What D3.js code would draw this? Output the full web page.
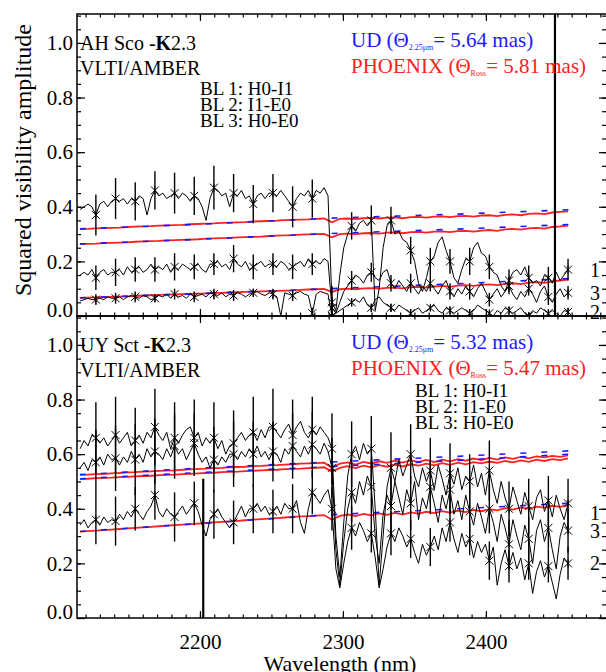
<!DOCTYPE html>
<html>
<head>
<meta charset="utf-8">
<script src="https://cdn.jsdelivr.net/npm/d3@7"></script>
<style>
  body { margin: 0; background: #fff; }
  text { font-family: "Liberation Serif", "DejaVu Serif", serif; }
</style>
</head>
<body>
<div id="chart"></div>
<script>
// spectral sampling grid (nm): every point of the spectra, markers every 5th point
var wlStart = 2116.2, wlStep = 2.752, nPts = 125;
var markerEvery = 5, markerFirst = 4;

// ---- AH Sco (top panel) squared visibilities ----
var ahBL1 = [
  0.39,0.40,0.41,0.40,0.37,0.41,0.42,0.40,0.42,0.43,
  0.42,0.43,0.41,0.43,0.42,0.44,0.43,0.37,0.43,0.46,
  0.44,0.45,0.43,0.44,0.45,0.43,0.45,0.44,0.42,0.44,
  0.43,0.40,0.35,0.43,0.47,0.46,0.44,0.45,0.40,0.45,
  0.44,0.46,0.43,0.44,0.41,0.44,0.45,0.43,0.45,0.45,
  0.44,0.46,0.44,0.42,0.40,0.43,0.45,0.44,0.46,0.43,
  0.46,0.45,0.47,0.44,0.05,0.02,0.15,0.25,0.30,0.33,
  0.31,0.34,0.35,0.33,0.35,0.02,0.10,0.25,0.33,0.35,
  0.30,0.31,0.28,0.27,0.24,0.20,0.12,0.09,0.14,0.20,
  0.22,0.27,0.29,0.24,0.20,0.14,0.12,0.17,0.21,0.20,
  0.25,0.27,0.23,0.22,0.18,0.16,0.15,0.11,0.09,0.13,
  0.16,0.17,0.15,0.18,0.14,0.12,0.13,0.11,0.15,0.14,
  0.12,0.16,0.13,0.15,0.17];
var ahBL2 = [
  0.055,0.06,0.065,0.06,0.06,0.065,0.06,0.07,0.065,0.065,
  0.07,0.06,0.07,0.075,0.07,0.065,0.075,0.07,0.06,0.065,
  0.075,0.07,0.08,0.065,0.08,0.07,0.075,0.065,0.08,0.07,
  0.075,0.08,0.07,0.085,0.08,0.075,0.085,0.07,0.08,0.075,
  0.085,0.08,0.07,0.08,0.085,0.09,0.08,0.075,0.085,0.08,
  0.07,0.0,0.085,0.08,0.075,0.085,0.09,0.08,0.075,0.01,
  0.08,0.09,0.085,0.08,0.0,0.01,0.02,0.03,0.04,0.05,
  0.06,0.05,0.07,0.04,0.03,0.06,0.07,0.05,0.04,0.03,
  0.02,0.04,0.03,0.02,0.01,0.02,0.03,0.01,0.02,0.03,
  0.04,0.02,0.01,0.03,0.02,0.01,0.02,0.03,0.02,0.01,
  0.02,0.04,0.03,0.02,0.01,0.0,0.02,0.01,0.03,0.02,
  0.01,0.02,0.03,0.01,0.0,0.02,0.01,0.03,0.02,0.01,
  0.02,0.01,0.0,0.02,0.015];
var ahBL3 = [
  0.15,0.16,0.15,0.17,0.14,0.16,0.17,0.15,0.16,0.16,
  0.17,0.15,0.18,0.16,0.17,0.18,0.16,0.17,0.19,0.17,
  0.18,0.17,0.19,0.16,0.18,0.17,0.19,0.18,0.17,0.18,
  0.19,0.17,0.16,0.19,0.19,0.20,0.18,0.19,0.17,0.21,
  0.19,0.18,0.20,0.17,0.18,0.19,0.20,0.18,0.19,0.19,
  0.18,0.20,0.19,0.17,0.18,0.19,0.20,0.18,0.21,0.19,
  0.20,0.19,0.21,0.20,0.03,0.01,0.05,0.09,0.11,0.13,
  0.15,0.14,0.12,0.15,0.16,0.14,0.13,0.16,0.17,0.12,
  0.10,0.13,0.11,0.09,0.12,0.10,0.08,0.11,0.09,0.12,
  0.10,0.08,0.11,0.13,0.09,0.07,0.10,0.08,0.11,0.09,
  0.07,0.10,0.12,0.09,0.06,0.08,0.10,0.07,0.09,0.11,
  0.08,0.06,0.09,0.07,0.10,0.08,0.05,0.09,0.11,0.07,
  0.05,0.08,0.10,0.07,0.085];
// error bars (half length) at the marked points
var ahErr1 = [0.075,0.075,0.07,0.07,0.075,0.07,0.08,0.07,0.07,0.07,0.075,0.07,0.06,
  0.05,0.055,0.05,0.05,0.05,0.045,0.05,0.045,0.04,0.045,0.04,0.04];
var ahErr2 = [0.02,0.02,0.02,0.015,0.02,0.02,0.02,0.02,0.015,0.02,0.02,0.02,0.02,
  0.015,0.015,0.015,0.015,0.01,0.015,0.015,0.01,0.015,0.01,0.015,0.015];
var ahErr3 = [0.045,0.05,0.045,0.045,0.05,0.045,0.04,0.05,0.045,0.04,0.045,0.04,0.04,
  0.035,0.035,0.03,0.035,0.03,0.03,0.03,0.025,0.03,0.025,0.03,0.025];
// PHOENIX model (every 2nd grid point)
var ahRed1 = [
  0.318,0.319,0.321,0.322,0.323,0.324,0.326,0.327,0.328,0.329,
  0.331,0.332,0.333,0.334,0.336,0.337,0.338,0.339,0.341,0.342,
  0.343,0.344,0.346,0.347,0.348,0.349,0.351,0.352,0.353,0.354,
  0.356,0.357,0.343,0.356,0.357,0.355,0.358,0.359,0.357,0.360,
  0.361,0.358,0.362,0.363,0.360,0.364,0.365,0.362,0.366,0.367,
  0.364,0.368,0.369,0.366,0.370,0.372,0.369,0.374,0.376,0.373,
  0.379,0.381,0.383];
var ahRed2 = [
  0.263,0.264,0.265,0.267,0.268,0.269,0.270,0.272,0.273,0.274,
  0.275,0.277,0.278,0.279,0.280,0.281,0.283,0.284,0.285,0.286,
  0.288,0.289,0.290,0.291,0.293,0.294,0.295,0.296,0.298,0.299,
  0.300,0.301,0.288,0.300,0.302,0.300,0.303,0.304,0.302,0.305,
  0.306,0.303,0.307,0.308,0.305,0.309,0.310,0.307,0.311,0.312,
  0.309,0.313,0.315,0.312,0.317,0.319,0.316,0.321,0.323,0.320,
  0.326,0.328,0.331];
var ahRed3 = [
  0.066,0.067,0.068,0.069,0.070,0.071,0.072,0.073,0.075,0.076,
  0.077,0.078,0.079,0.080,0.081,0.082,0.083,0.084,0.085,0.086,
  0.087,0.088,0.089,0.090,0.091,0.092,0.093,0.094,0.096,0.097,
  0.098,0.099,0.088,0.098,0.100,0.098,0.101,0.102,0.100,0.103,
  0.104,0.101,0.105,0.107,0.104,0.108,0.110,0.107,0.111,0.113,
  0.110,0.114,0.116,0.113,0.118,0.120,0.117,0.122,0.124,0.121,
  0.127,0.130,0.133];
// uniform disk model at a few wavelengths
var udWl = [2116, 2200, 2290, 2380, 2458];
var ahUD1 = [0.319, 0.336, 0.358, 0.373, 0.389];
var ahUD2 = [0.264, 0.281, 0.302, 0.318, 0.335];
var ahUD3 = [0.067, 0.082, 0.100, 0.118, 0.137];

// ---- UY Sct (bottom panel) ----
var uyBL1 = [
  0.62,0.65,0.63,0.67,0.66,0.64,0.66,0.63,0.65,0.67,
  0.64,0.66,0.68,0.63,0.65,0.67,0.64,0.68,0.66,0.70,
  0.67,0.65,0.68,0.62,0.66,0.64,0.67,0.69,0.70,0.66,
  0.68,0.63,0.66,0.64,0.66,0.62,0.65,0.60,0.63,0.64,
  0.66,0.68,0.65,0.67,0.68,0.65,0.69,0.66,0.70,0.70,
  0.68,0.66,0.69,0.71,0.67,0.70,0.72,0.68,0.66,0.69,
  0.67,0.70,0.68,0.66,0.62,0.30,0.15,0.35,0.52,0.60,
  0.63,0.58,0.64,0.60,0.62,0.40,0.12,0.30,0.48,0.55,
  0.50,0.58,0.52,0.56,0.60,0.52,0.48,0.55,0.50,0.54,
  0.47,0.56,0.51,0.45,0.53,0.49,0.55,0.47,0.52,0.50,
  0.56,0.48,0.53,0.45,0.54,0.47,0.42,0.50,0.44,0.40,
  0.48,0.43,0.38,0.46,0.41,0.36,0.44,0.47,0.39,0.43,
  0.37,0.45,0.40,0.36,0.42];
var uyBL2 = [
  0.34,0.36,0.33,0.35,0.36,0.34,0.37,0.35,0.36,0.355,
  0.38,0.36,0.39,0.37,0.40,0.38,0.36,0.39,0.41,0.45,
  0.39,0.37,0.40,0.38,0.37,0.39,0.41,0.38,0.40,0.42,
  0.39,0.34,0.30,0.36,0.38,0.40,0.37,0.35,0.33,0.35,
  0.38,0.41,0.37,0.40,0.40,0.42,0.39,0.41,0.38,0.39,
  0.41,0.38,0.42,0.40,0.40,0.43,0.35,0.31,0.40,0.46,
  0.44,0.42,0.45,0.47,0.40,0.18,0.11,0.20,0.28,0.33,
  0.30,0.35,0.32,0.28,0.31,0.22,0.11,0.18,0.26,0.31,
  0.28,0.33,0.30,0.26,0.29,0.24,0.20,0.27,0.23,0.26,
  0.30,0.25,0.33,0.28,0.35,0.29,0.24,0.31,0.26,0.29,
  0.22,0.28,0.24,0.27,0.21,0.26,0.12,0.20,0.25,0.19,
  0.24,0.18,0.22,0.14,0.20,0.09,0.17,0.21,0.15,0.19,
  0.13,0.07,0.16,0.22,0.20];
var uyBL3 = [
  0.55,0.57,0.54,0.58,0.57,0.59,0.56,0.60,0.58,0.585,
  0.56,0.59,0.57,0.61,0.58,0.60,0.57,0.62,0.59,0.61,
  0.60,0.58,0.62,0.59,0.63,0.60,0.62,0.58,0.61,0.64,
  0.60,0.57,0.59,0.55,0.58,0.56,0.59,0.57,0.60,0.60,
  0.58,0.61,0.59,0.62,0.60,0.63,0.59,0.61,0.58,0.61,
  0.60,0.57,0.62,0.60,0.63,0.61,0.59,0.63,0.60,0.635,
  0.62,0.60,0.64,0.61,0.55,0.25,0.12,0.28,0.40,0.46,
  0.42,0.50,0.45,0.52,0.48,0.30,0.20,0.38,0.45,0.41,
  0.50,0.44,0.38,0.47,0.42,0.50,0.36,0.44,0.40,0.48,
  0.42,0.35,0.45,0.40,0.47,0.38,0.43,0.36,0.45,0.39,
  0.34,0.42,0.37,0.31,0.40,0.35,0.28,0.38,0.33,0.27,
  0.36,0.30,0.25,0.34,0.29,0.20,0.32,0.36,0.28,0.33,
  0.25,0.18,0.30,0.35,0.32];
var uyErr1 = [0.13,0.14,0.12,0.14,0.13,0.14,0.13,0.12,0.13,0.14,0.13,0.12,0.13,
  0.12,0.12,0.13,0.11,0.12,0.11,0.10,0.11,0.10,0.10,0.09,0.09];
var uyErr2 = [0.09,0.09,0.08,0.09,0.09,0.08,0.09,0.08,0.09,0.08,0.09,0.08,0.08,
  0.08,0.07,0.08,0.07,0.07,0.07,0.06,0.07,0.06,0.06,0.06,0.06];
var uyErr3 = [0.12,0.12,0.13,0.12,0.12,0.11,0.12,0.12,0.12,0.11,0.12,0.12,0.11,
  0.11,0.10,0.11,0.10,0.10,0.09,0.10,0.09,0.09,0.08,0.08,0.08];
var uyRed1 = [
  0.524,0.525,0.527,0.528,0.530,0.531,0.533,0.534,0.536,0.537,
  0.539,0.540,0.541,0.543,0.544,0.546,0.547,0.549,0.550,0.552,
  0.553,0.554,0.556,0.557,0.559,0.560,0.562,0.563,0.565,0.566,
  0.567,0.569,0.550,0.565,0.570,0.562,0.572,0.566,0.574,0.568,
  0.576,0.569,0.577,0.572,0.579,0.571,0.580,0.574,0.582,0.576,
  0.584,0.578,0.586,0.580,0.588,0.583,0.590,0.585,0.592,0.588,
  0.594,0.590,0.596];
var uyRed3 = [
  0.509,0.510,0.512,0.513,0.514,0.516,0.517,0.519,0.520,0.521,
  0.523,0.524,0.525,0.527,0.528,0.530,0.531,0.532,0.534,0.535,
  0.536,0.538,0.539,0.541,0.542,0.543,0.545,0.546,0.547,0.549,
  0.550,0.552,0.536,0.550,0.556,0.549,0.558,0.552,0.560,0.554,
  0.562,0.555,0.563,0.558,0.565,0.559,0.567,0.561,0.569,0.563,
  0.571,0.566,0.573,0.568,0.575,0.570,0.577,0.572,0.580,0.575,
  0.582,0.578,0.585];
var uyRed2 = [
  0.316,0.318,0.320,0.322,0.324,0.326,0.328,0.330,0.332,0.334,
  0.336,0.338,0.340,0.342,0.344,0.346,0.348,0.350,0.352,0.354,
  0.356,0.358,0.360,0.362,0.364,0.366,0.368,0.370,0.372,0.373,
  0.375,0.377,0.360,0.374,0.379,0.373,0.381,0.376,0.383,0.378,
  0.385,0.379,0.387,0.382,0.389,0.384,0.391,0.386,0.393,0.388,
  0.396,0.391,0.399,0.394,0.402,0.397,0.405,0.400,0.408,0.404,
  0.411,0.407,0.414];
var uyUD1 = [0.525, 0.549, 0.571, 0.592, 0.612];
var uyUD3 = [0.510, 0.533, 0.554, 0.577, 0.600];
var uyUD2 = [0.317, 0.346, 0.378, 0.400, 0.420];

// isolated points with huge error bars
var spikePanel = [0, 1];
var spikeWl = [2448.3, 2202.3];
var spikeLo = [-0.2, -0.2];
var spikeHi = [1.3, 0.51];

// value at which the baseline number is written at the right edge
var endLabels = ["1", "3", "2"];
var ahEndVal = [0.168, 0.084, 0.015];
var uyEndVal = [0.385, 0.319, 0.200];

var xTicks = [2200, 2300, 2400];
var yTicks = [0, 0.2, 0.4, 0.6, 0.8, 1.0];

[ahBL1, ahBL2, ahBL3, uyBL1, uyBL2, uyBL3].forEach(function(a, k) {
  if (a.length !== nPts) throw new Error("series " + k + " has " + a.length);
});
[ahRed1, ahRed2, ahRed3, uyRed1, uyRed2, uyRed3].forEach(function(a, k) {
  if (a.length !== 63) throw new Error("model " + k + " has " + a.length);
});

var wl = d3.range(nPts).map(function(i) { return wlStart + i * wlStep; });
var wlModel = wl.filter(function(d, i) { return i % 2 === 0; });

var panels = [
  {star: "AH Sco", top: 14, bottom: 316, data: [ahBL1, ahBL2, ahBL3], err: [ahErr1, ahErr2, ahErr3],
   red: [ahRed1, ahRed2, ahRed3], ud: [ahUD1, ahUD2, ahUD3], udVal: "5.64", phVal: "5.81",
   blX: 200, blY: 95, endVal: ahEndVal, xLabels: false},
  {star: "UY Sct", top: 316, bottom: 618, data: [uyBL1, uyBL2, uyBL3], err: [uyErr1, uyErr2, uyErr3],
   red: [uyRed1, uyRed2, uyRed3], ud: [uyUD1, uyUD2, uyUD3], udVal: "5.32", phVal: "5.47",
   blX: 415, blY: 397, endVal: uyEndVal, xLabels: true}
];

var width = 606, height = 672;
var x = d3.scaleLinear().domain([2114, 2484]).range([77, 606]);

var svg = d3.select("#chart").append("svg")
  .attr("width", width)
  .attr("height", height);

var blue = "#1a1aff", red = "#ff2020";

panels.forEach(function(p, pi) {
  var y = d3.scaleLinear().domain([0, 1.106]).range([p.bottom, p.top]);
  var g = svg.append("g");

  var clipId = "clip" + pi;
  svg.append("clipPath").attr("id", clipId).append("rect")
    .attr("x", 77).attr("y", p.top).attr("width", 529).attr("height", p.bottom - p.top);

  var plot = g.append("g").attr("clip-path", "url(#" + clipId + ")");

  var line = d3.line()
    .x(function(d) { return x(d[0]); })
    .y(function(d) { return y(d[1]); });

  // models: PHOENIX in red, uniform disk dashed blue on top
  p.red.forEach(function(m) {
    plot.append("path")
      .attr("d", line(m.map(function(v, i) { return [wlModel[i], v]; })))
      .attr("fill", "none").attr("stroke", red).attr("stroke-width", 1.8);
  });
  p.ud.forEach(function(m) {
    plot.append("path")
      .attr("d", line(m.map(function(v, i) { return [udWl[i], v]; })))
      .attr("fill", "none").attr("stroke", blue).attr("stroke-width", 1.6)
      .attr("stroke-dasharray", "6,15");
  });

  // measured squared visibilities
  p.data.forEach(function(s, si) {
    plot.append("path")
      .attr("d", line(s.map(function(v, i) { return [wl[i], v]; })))
      .attr("fill", "none").attr("stroke", "#000").attr("stroke-width", 1);

    var marks = s.map(function(v, i) { return {w: wl[i], v: v, i: i}; })
      .filter(function(d) { return d.i >= markerFirst && (d.i - markerFirst) % markerEvery === 0; });
    marks.forEach(function(d, k) { d.e = p.err[si][k]; });

    plot.selectAll(null).data(marks).enter().append("line")
      .attr("x1", function(d) { return x(d.w); })
      .attr("x2", function(d) { return x(d.w); })
      .attr("y1", function(d) { return y(d.v - d.e); })
      .attr("y2", function(d) { return y(d.v + d.e); })
      .attr("stroke", "#000").attr("stroke-width", 1.4);

    var r = 4;
    plot.selectAll(null).data(marks).enter().append("path")
      .attr("transform", function(d) { return "translate(" + x(d.w) + "," + y(d.v) + ")"; })
      .attr("d", "M" + (-r) + "," + (-r) + "L" + r + "," + r + "M" + (-r) + "," + r + "L" + r + "," + (-r) +
                 "M0," + (-r) + "L0," + r)
      .attr("fill", "none").attr("stroke", "#000").attr("stroke-width", 1);
  });

  spikeWl.forEach(function(w, k) {
    if (spikePanel[k] !== pi) return;
    plot.append("line")
      .attr("x1", x(w)).attr("x2", x(w))
      .attr("y1", y(spikeLo[k])).attr("y2", y(spikeHi[k]))
      .attr("stroke", "#000").attr("stroke-width", 2.2);
  });

  // frame and ticks (all inward)
  var minorX = d3.range(2120, 2484, 10);
  var minorY = d3.range(0, 1.11, 0.05);
  var tickFont = function(sel) {
    sel.select(".domain").remove();
    sel.selectAll("text").attr("font-family", "Liberation Serif, serif").attr("font-size", 21).attr("fill", "#000");
    sel.selectAll("line").attr("stroke", "#000").attr("stroke-width", 1.2);
  };

  g.append("g").attr("transform", "translate(0," + p.bottom + ")")
    .call(d3.axisBottom(x).tickValues(minorX).tickSize(-3.5).tickFormat("")).call(tickFont);
  g.append("g").attr("transform", "translate(0," + p.top + ")")
    .call(d3.axisTop(x).tickValues(minorX).tickSize(-3.5).tickFormat("")).call(tickFont);
  g.append("g").attr("transform", "translate(0," + p.bottom + ")")
    .call(d3.axisBottom(x).tickValues(xTicks).tickSize(-7).tickPadding(16)
      .tickFormat(p.xLabels ? d3.format("d") : "")).call(tickFont);
  g.append("g").attr("transform", "translate(0," + p.top + ")")
    .call(d3.axisTop(x).tickValues(xTicks).tickSize(-7).tickFormat("")).call(tickFont);

  g.append("g").attr("transform", "translate(77,0)")
    .call(d3.axisLeft(y).tickValues(minorY).tickSize(-4).tickFormat("")).call(tickFont);
  var yAxis = g.append("g").attr("transform", "translate(77,0)")
    .call(d3.axisLeft(y).tickValues(yTicks).tickSize(-8).tickPadding(4).tickFormat(d3.format(".1f"))).call(tickFont);
  // the 0.0 label sits a little above its tick, as in the original
  yAxis.selectAll("text").filter(function(d) { return d === 0; }).attr("y", -6);
  g.append("g").attr("transform", "translate(606,0)")
    .call(d3.axisRight(y).tickValues(minorY).tickSize(-4).tickFormat("")).call(tickFont);
  g.append("g").attr("transform", "translate(606,0)")
    .call(d3.axisRight(y).tickValues(yTicks).tickSize(-7).tickFormat("")).call(tickFont);

  g.append("rect")
    .attr("x", 77).attr("y", p.top).attr("width", 530).attr("height", p.bottom - p.top)
    .attr("fill", "none").attr("stroke", "#000").attr("stroke-width", 1.5);

  // annotations
  var t1 = g.append("text").attr("x", 80).attr("y", p.top + 36).attr("font-size", 20);
  t1.append("tspan").text(p.star + " -");
  t1.append("tspan").attr("font-weight", "bold").text("K");
  t1.append("tspan").text("2.3");
  g.append("text").attr("x", 80).attr("y", p.top + 61).attr("font-size", 20).text("VLTI/AMBER");

  var ud = g.append("text").attr("x", 351).attr("y", p.top + 33).attr("font-size", 21).attr("fill", blue);
  ud.append("tspan").text("UD (\u0398");
  ud.append("tspan").attr("font-size", 8).attr("dy", 3).text("2.25\u03bcm");
  ud.append("tspan").attr("dy", -3).text("= " + p.udVal + " mas)");

  var ph = g.append("text").attr("x", 351).attr("y", p.top + 59).attr("font-size", 21).attr("fill", red);
  ph.append("tspan").text("PHOENIX (\u0398");
  ph.append("tspan").attr("font-size", 8).attr("dy", 3).text("Ross");
  ph.append("tspan").attr("dy", -3).text("= " + p.phVal + " mas)");

  ["BL 1: H0-I1", "BL 2: I1-E0", "BL 3: H0-E0"].forEach(function(s, k) {
    g.append("text").attr("x", p.blX).attr("y", p.blY + k * 16).attr("font-size", 19).text(s);
  });

  endLabels.forEach(function(s, k) {
    g.append("text").attr("x", 590).attr("y", y(p.endVal[k])).attr("dy", "0.35em")
      .attr("font-size", 20).text(s);
  });
});

svg.append("text")
  .attr("transform", "translate(31,160) rotate(-90)")
  .attr("text-anchor", "middle").attr("font-size", 24)
  .text("Squared visibility amplitude");

svg.append("text")
  .attr("x", 340).attr("y", 671).attr("text-anchor", "middle").attr("font-size", 22)
  .text("Wavelength (nm)");
</script>
</body>
</html>
